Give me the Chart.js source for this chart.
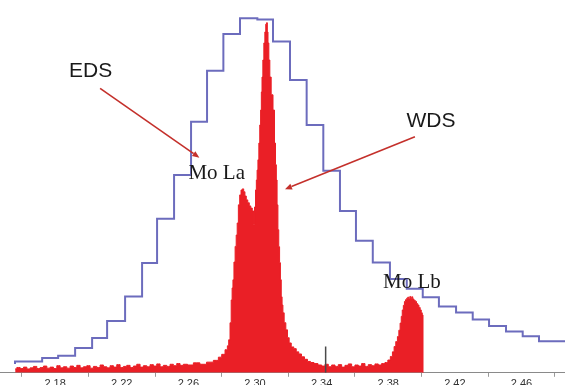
<!DOCTYPE html>
<html lang="en">
<head>
<meta charset="UTF-8">
<title>Mo L lines: EDS vs WDS</title>
<script src="https://cdn.jsdelivr.net/npm/chart.js"></script>
<style>
html, body {
    margin: 0;
    padding: 0;
    background: #fff;
    overflow: hidden;
}
#spectrum {
    display: block;
}
</style>
</head>
<body>
<canvas id="spectrum" width="565" height="392"></canvas>
<script>
// EDS spectrum: channel edges (keV) and intensity (% of EDS maximum)
const edsEnergy = [2.1559, 2.1722, 2.1818, 2.1920, 2.2022, 2.2112, 2.2220, 2.2322, 2.2412, 2.2514,
    2.2616, 2.2712, 2.2810, 2.2910, 2.3014, 2.3108, 2.3210, 2.3310, 2.3410, 2.3510,
    2.3606, 2.3707, 2.3810, 2.3911, 2.4007, 2.4104, 2.4207, 2.4307, 2.4405, 2.4507,
    2.4607, 2.4705, 2.4807, 2.4910];
const edsCounts = [2.45, 3.18, 4.14, 4.79, 6.95, 9.77, 14.6, 21.5, 30.9, 43.4,
    55.7, 70.7, 85.1, 95.4, 99.85, 99.5, 93.3, 82.5, 69.8, 56.9,
    45.6, 37.2, 31.05, 26.4, 23.65, 21.25, 18.7, 17.0, 15.0, 13.2,
    11.6, 10.3, 8.9, 8.9];

// WDS spectrum (same intensity units)
const wdsEnergy = [2.156, 2.158, 2.160, 2.162, 2.164, 2.166, 2.168, 2.170, 2.172, 2.174,
    2.176, 2.178, 2.180, 2.182, 2.184, 2.186, 2.188, 2.190, 2.192, 2.194,
    2.196, 2.198, 2.200, 2.202, 2.204, 2.206, 2.208, 2.210, 2.212, 2.214,
    2.216, 2.218, 2.220, 2.222, 2.224, 2.226, 2.228, 2.230, 2.232, 2.234,
    2.236, 2.238, 2.240, 2.242, 2.244, 2.246, 2.248, 2.250, 2.252, 2.254,
    2.256, 2.258,
    2.2610, 2.2650, 2.2688, 2.2730, 2.2770, 2.2790, 2.2810, 2.2830, 2.2838, 2.2846,
    2.2854, 2.2860, 2.2865, 2.2870, 2.2877, 2.2884, 2.2890, 2.2896, 2.2904, 2.2912,
    2.2920, 2.2928, 2.2936, 2.2943, 2.2952, 2.2961, 2.2970, 2.2979, 2.2988, 2.2994,
    2.3000, 2.3006, 2.3010, 2.3015, 2.3020, 2.3026, 2.3031, 2.3036, 2.3040, 2.3044,
    2.3050, 2.3056, 2.3062, 2.3067, 2.3072, 2.3076, 2.3080, 2.3086, 2.3092, 2.3102,
    2.3114, 2.3120, 2.3126, 2.3130, 2.3135, 2.3140, 2.3145, 2.3150, 2.3155, 2.3160,
    2.3165, 2.3170, 2.3180, 2.3190, 2.3200, 2.3210, 2.3225, 2.3240, 2.3255, 2.3270,
    2.3288, 2.3306, 2.3324, 2.3342, 2.3366, 2.3390,
    2.341, 2.343, 2.345, 2.347, 2.349, 2.351, 2.353, 2.355, 2.357, 2.359,
    2.361, 2.363, 2.365, 2.367, 2.369, 2.371, 2.373,
    2.3750, 2.3770, 2.3790, 2.3805, 2.3820, 2.3830, 2.3840, 2.3850, 2.3860, 2.3867,
    2.3875, 2.3881, 2.3887, 2.3894, 2.3900, 2.3907, 2.3914, 2.3920, 2.3927, 2.3932,
    2.3938, 2.3944, 2.3950, 2.3958, 2.3966, 2.3973, 2.3980, 2.3988, 2.3995, 2.4001,
    2.4007, 2.4010];
const wdsCounts = [1.1, 1.5, 1.2, 1.6, 1.1, 1.4, 1.8, 1.2, 1.5, 1.9,
    1.3, 1.6, 1.2, 2.0, 1.4, 1.7, 1.3, 1.9, 1.5, 2.1,
    1.4, 1.7, 2.0, 1.3, 1.8, 1.5, 2.2, 1.7, 1.4, 2.0,
    1.6, 2.3, 1.5, 1.8, 2.1, 1.5, 1.9, 2.4, 1.6, 2.0,
    1.7, 2.3, 1.9, 2.5, 1.7, 2.1, 1.8, 2.4, 2.0, 2.6,
    2.1, 2.4,
    2.2, 2.8, 2.4, 3.0, 3.5, 4.4, 5.2, 6.5, 7.6, 9.3,
    14.1, 20.5, 23.9, 26.2, 31.2, 35.6, 38.8, 42.2, 47.3, 50.1,
    51.5, 51.8, 51.0, 49.8, 48.7, 47.9, 47.0, 46.4, 45.6, 41.7,
    46.7, 51.5, 54.3, 57.1, 60.0, 64.7, 69.8, 74.0, 79.1, 83.3,
    88.1, 92.9, 96.0, 98.2, 98.6, 96.0, 92.9, 88.1, 83.3, 78.3,
    74.0, 64.7, 58.6, 54.3, 47.3, 40.3, 35.5, 31.0, 26.2, 21.4,
    19.1, 16.9, 14.1, 12.1, 9.9, 8.4, 7.3, 6.8, 5.9, 5.3,
    4.5, 3.8, 3.2, 2.9, 2.6, 2.2,
    1.9, 2.4, 1.7, 2.2, 1.8, 2.3, 1.6, 2.1, 2.5, 1.7,
    2.2, 1.9, 2.6, 1.8, 2.3, 2.0, 2.5,
    2.2, 2.6, 2.9, 3.6, 4.6, 5.9, 7.4, 8.8, 10.2, 12.0,
    14.0, 15.9, 17.7, 19.0, 20.1, 20.6, 21.0, 21.3, 20.8, 21.5,
    21.0, 21.4, 20.8, 20.4, 20.1, 19.5, 19.1, 18.4, 17.7, 16.9,
    16.3, 0];

// short KLM marker under the axis
const markerEnergy = 2.3424;
const markerTop = 7.4;

// axis ticks: marks on the in-between values, labels on the others
const tickValues = [2.16, 2.18, 2.20, 2.22, 2.24, 2.26, 2.28, 2.30, 2.32, 2.34,
    2.36, 2.38, 2.40, 2.42, 2.44, 2.46, 2.48];
const tickLabels = ['2.18', '2.22', '2.26', '2.30', '2.34', '2.38', '2.42', '2.46'];

// text labels (centre energy, baseline intensity)
const noteTexts = ['EDS', 'WDS', 'Mo La', 'Mo Lb'];
const noteEnergy = [2.2013, 2.4056, 2.2770, 2.3942];
const noteLevel = [83.2, 69.3, 54.5, 23.8];
const noteFonts = ['21px "Liberation Sans"', '21px "Liberation Sans"',
    '21px "Liberation Serif"', '21px "Liberation Serif"'];

// arrows from the EDS / WDS labels to their curves
const arrowFromEnergy = [2.2070, 2.3960];
const arrowFromLevel = [80.1, 66.5];
const arrowToEnergy = [2.2666, 2.3180];
const arrowToLevel = [60.6, 51.7];

function isLabelled(v) {
    return tickLabels.some(t => Math.abs(parseFloat(t) - v) < 1e-6);
}

const notesPlugin = {
    id: 'notes',
    afterDatasetsDraw(chart) {
        const ctx = chart.ctx;
        const xs = chart.scales.x, ys = chart.scales.y;
        ctx.save();

        // arrows
        ctx.strokeStyle = '#c4302b';
        ctx.fillStyle = '#c4302b';
        ctx.lineWidth = 1.6;
        for (let i = 0; i < arrowFromEnergy.length; i++) {
            const x0 = xs.getPixelForValue(arrowFromEnergy[i]);
            const y0 = ys.getPixelForValue(arrowFromLevel[i]);
            const x1 = xs.getPixelForValue(arrowToEnergy[i]);
            const y1 = ys.getPixelForValue(arrowToLevel[i]);
            const a = Math.atan2(y1 - y0, x1 - x0);
            const len = 7, half = 3;
            const bx = x1 - len * Math.cos(a), by = y1 - len * Math.sin(a);
            ctx.beginPath();
            ctx.moveTo(x0, y0);
            ctx.lineTo(bx, by);
            ctx.stroke();
            ctx.beginPath();
            ctx.moveTo(x1, y1);
            ctx.lineTo(bx + half * Math.sin(a), by - half * Math.cos(a));
            ctx.lineTo(bx - half * Math.sin(a), by + half * Math.cos(a));
            ctx.closePath();
            ctx.fill();
        }

        // labels
        ctx.fillStyle = '#1a1a1a';
        ctx.textAlign = 'center';
        ctx.textBaseline = 'alphabetic';
        for (let i = 0; i < noteTexts.length; i++) {
            ctx.font = noteFonts[i];
            ctx.fillText(noteTexts[i], xs.getPixelForValue(noteEnergy[i]), ys.getPixelForValue(noteLevel[i]));
        }
        ctx.restore();
    }
};

const edsData = edsEnergy.map((e, i) => ({ x: e, y: edsCounts[i] }));
const wdsData = wdsEnergy.map((e, i) => ({ x: e, y: wdsCounts[i] }));

new Chart(document.getElementById('spectrum'), {
    type: 'line',
    data: {
        datasets: [
            {
                label: 'EDS',
                data: edsData,
                stepped: 'after',
                borderColor: '#6c6cbd',
                borderWidth: 2,
                pointRadius: 0,
                fill: false,
                order: 0
            },
            {
                label: 'KLM',
                data: [{ x: markerEnergy, y: 0 }, { x: markerEnergy, y: markerTop }],
                borderColor: '#4a4a4a',
                borderWidth: 1.5,
                pointRadius: 0,
                fill: false,
                order: 1
            },
            {
                label: 'WDS',
                data: wdsData,
                stepped: 'middle',
                borderColor: '#ea1f26',
                backgroundColor: '#ea1f26',
                borderWidth: 1,
                pointRadius: 0,
                fill: 'origin',
                order: 2
            }
        ]
    },
    options: {
        responsive: false,
        animation: false,
        layout: { padding: 0 },
        plugins: {
            legend: { display: false },
            tooltip: { enabled: false }
        },
        scales: {
            x: {
                type: 'linear',
                min: 2.1469,
                max: 2.4861,
                afterBuildTicks: scale => {
                    scale.ticks = tickValues.map(v => ({ value: v }));
                },
                border: { display: true, color: '#8a8a8a', width: 1 },
                grid: {
                    drawOnChartArea: false,
                    drawTicks: true,
                    tickLength: 4,
                    tickWidth: 1,
                    tickColor: c => (c.tick && isLabelled(c.tick.value)) ? 'rgba(0,0,0,0)' : '#9a9a9a'
                },
                ticks: {
                    autoSkip: false,
                    maxRotation: 0,
                    padding: 1,
                    color: '#333',
                    font: { family: '"Liberation Sans", Arial, sans-serif', size: 11 },
                    callback: v => isLabelled(v) ? v.toFixed(2) : ''
                }
            },
            y: {
                display: false,
                min: 0,
                max: 105
            }
        }
    },
    plugins: [notesPlugin]
});
</script>
</body>
</html>
